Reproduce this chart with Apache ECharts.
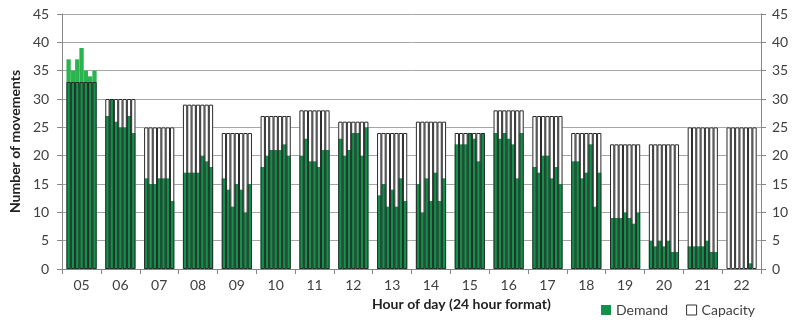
<!DOCTYPE html>
<html>
<head>
<meta charset="utf-8">
<script src="https://cdn.jsdelivr.net/npm/echarts@6/dist/echarts.min.js"></script>
<style>
html,body{margin:0;padding:0;background:#fff;}
#c{width:800px;height:326px;}
</style>
</head>
<body>
<div id="c"></div>
<script>
const hours = ['05','06','07','08','09','10','11','12','13','14','15','16','17','18','19','20','21','22'];
const capacity = [33,30,25,29,24,27,28,26,24,26,24,28,27,24,22,22,25,25];
const demand05 = [37,35,37,39,35,34,35];
const demand06 = [27,30,26,25,25,27,24];
const demand07 = [16,15,15,16,16,16,12];
const demand08 = [17,17,17,17,20,19,18];
const demand09 = [16,14,11,15,14,10,15];
const demand10 = [18,20,21,21,21,22,20];
const demand11 = [20,23,19,19,18,21,21];
const demand12 = [23,20,21,24,24,20,25];
const demand13 = [13,15,11,14,11,16,12];
const demand14 = [15,10,16,12,17,12,16];
const demand15 = [22,22,22,24,23,19,24];
const demand16 = [24,23,24,23,22,16,24];
const demand17 = [18,17,20,20,16,18,15];
const demand18 = [19,19,16,17,22,11,17];
const demand19 = [9,9,9,10,9,8,10];
const demand20 = [5,4,5,4,5,3,3];
const demand21 = [4,4,4,4,5,3,3];
const demand22 = [0,0,0,0,0,1,0];
const yTicks = [0,5,10,15,20,25,30,35,40,45];

const demandByHour = [demand05,demand06,demand07,demand08,demand09,demand10,demand11,demand12,demand13,demand14,demand15,demand16,demand17,demand18,demand19,demand20,demand21,demand22];

// 9 slots per hour: gap, 7 sub-intervals, gap
const slots = [], capSlots = [], inSlots = [], overSlots = [];
hours.forEach((h, i) => {
  for (let s = 0; s < 9; s++) {
    slots.push(h + '_' + s);
    if (s === 0 || s === 8) {
      capSlots.push('-'); inSlots.push('-'); overSlots.push('-');
    } else {
      const d = demandByHour[i][s - 1];
      const c = capacity[i];
      capSlots.push(c);
      inSlots.push(d > 0 ? Math.min(d, c) : '-');
      overSlots.push(d > c ? d - c : '-');
    }
  }
});

const FONT = 'Lato, "Open Sans", sans-serif';
const axisColor = '#868686';
const textColor = '#404040';
const dark = '#10924a';
const light = '#2ab450';
const edge = '#2a2a2a';

const chart = echarts.init(document.getElementById('c'), null, {renderer: 'canvas'});
chart.setOption({
  animation: false,
  backgroundColor: '#fff',
  textStyle: {fontFamily: FONT},
  grid: {left: 62, right: 39, top: 14, bottom: 57, containLabel: false},
  legend: {
    data: ['Demand', {name: 'Capacity', itemStyle: {color: '#fff', borderColor: '#333', borderWidth: 1}}],
    right: 40, bottom: 4,
    icon: 'rect', itemWidth: 10, itemHeight: 10, itemGap: 18,
    textStyle: {fontFamily: FONT, fontSize: 14, color: textColor},
    selectedMode: false
  },
  graphic: [{
    type: 'text', left: 372, top: 297,
    style: {text: 'Hour of day (24 hour format)', font: 'bold 14px ' + FONT, fill: '#222', textAlign: 'center'}
  }],
  xAxis: [{
    type: 'category', data: slots, show: false, boundaryGap: true
  }, {
    type: 'category', data: hours, position: 'bottom', boundaryGap: true,
    axisLine: {show: true, lineStyle: {color: axisColor}},
    axisTick: {show: true, length: 5, lineStyle: {color: axisColor}},
    axisLabel: {fontSize: 14, color: textColor, margin: 9, fontFamily: FONT},
    splitLine: {show: false}
  }],
  yAxis: [{
    type: 'value', min: 0, max: 45, interval: 5, position: 'left',
    name: 'Number of movements', nameLocation: 'middle', nameGap: 40,
    nameTextStyle: {fontWeight: 'bold', fontSize: 14, color: '#222', fontFamily: FONT},
    axisLine: {show: true, lineStyle: {color: axisColor}},
    axisTick: {show: true, length: 5, lineStyle: {color: axisColor}},
    axisLabel: {fontSize: 14, color: textColor, margin: 13, fontFamily: FONT,
      formatter: v => yTicks.includes(v) ? String(v) : ''},
    splitLine: {show: true, lineStyle: {color: '#a6a6a6', width: 1}}
  }, {
    type: 'value', min: 0, max: 45, interval: 5, position: 'right',
    axisLine: {show: true, lineStyle: {color: axisColor}},
    axisTick: {show: true, length: 5, lineStyle: {color: axisColor}},
    axisLabel: {fontSize: 14, color: textColor, margin: 11, fontFamily: FONT},
    splitLine: {show: false}
  }],
  series: [{
    name: 'Capacity', type: 'bar', xAxisIndex: 0, yAxisIndex: 0,
    data: capSlots, barWidth: '100%', barGap: '-100%', z: 1, silent: true,
    itemStyle: {color: '#ffffff', borderWidth: 0}
  }, {
    name: 'Demand', type: 'bar', stack: 'd', xAxisIndex: 0, yAxisIndex: 0,
    data: inSlots, barWidth: '100%', barGap: '-100%', z: 2, silent: true,
    itemStyle: {color: dark}
  }, {
    name: 'Excess', type: 'bar', stack: 'd', xAxisIndex: 0, yAxisIndex: 0,
    data: overSlots, barWidth: '100%', barGap: '-100%', z: 2, silent: true,
    itemStyle: {color: light}
  }, {
    name: 'CapOutline', type: 'bar', xAxisIndex: 0, yAxisIndex: 0,
    data: capSlots, barWidth: '100%', barGap: '-100%', z: 3, silent: true,
    itemStyle: {color: 'rgba(0,0,0,0)', borderColor: edge, borderWidth: 1}
  }]
});
</script>
</body>
</html>
